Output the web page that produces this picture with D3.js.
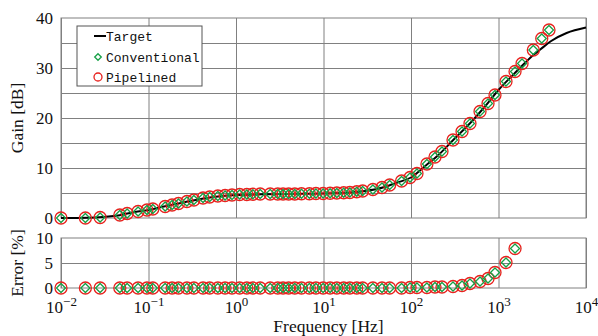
<!DOCTYPE html>
<html>
<head>
<meta charset="utf-8">
<script src="https://cdn.jsdelivr.net/npm/d3@7"></script>
<style>
  body { margin: 0; background: #fff; }
  .tick text { font-family: "Liberation Serif", serif; font-size: 17px; fill: #111; }
  .title { font-family: "Liberation Serif", serif; font-size: 17.5px; fill: #111; }
  .legend text { font-family: "Liberation Mono", monospace; font-size: 13px; fill: #111; }
</style>
</head>
<body>
<div id="chart"></div>
<script>
// frequencies of the measured points [Hz]
const freqs = [0.01, 0.019, 0.028, 0.047, 0.057, 0.076, 0.096, 0.112, 0.155, 0.186,
  0.22, 0.275, 0.33, 0.42, 0.5, 0.62, 0.75, 0.9, 1.1, 1.33,
  1.56, 1.89, 2.46, 3.0, 3.45, 4.0, 4.7, 5.6, 6.9, 8.2,
  9.9, 11.9, 14.2, 17, 20, 24, 28, 36.7, 46.6, 57,
  78, 97.5, 117, 152, 188, 226, 302, 383, 472, 615,
  759, 912, 1218, 1545, 1858, 2500, 3121, 3776];

// gain [dB]
const conventionalGain = [0, 0, 0.1, 0.6, 0.9, 1.3, 1.6, 1.8, 2.3, 2.6,
  2.9, 3.3, 3.6, 4.0, 4.2, 4.4, 4.5, 4.6, 4.7, 4.7,
  4.75, 4.8, 4.8, 4.8, 4.8, 4.8, 4.8, 4.85, 4.85, 4.9,
  4.9, 4.95, 5.0, 5.05, 5.1, 5.25, 5.4, 5.7, 6.1, 6.6,
  7.4, 8.1, 8.9, 10.8, 12.2, 13.3, 15.6, 17.3, 18.9, 21.3,
  22.9, 24.6, 27.3, 29.3, 30.9, 33.6, 35.9, 37.6];
const pipelinedGain = [0, 0, 0.1, 0.6, 0.9, 1.3, 1.6, 1.8, 2.3, 2.6,
  2.9, 3.3, 3.6, 4.0, 4.2, 4.4, 4.5, 4.6, 4.7, 4.7,
  4.75, 4.8, 4.8, 4.8, 4.8, 4.8, 4.8, 4.85, 4.85, 4.9,
  4.9, 4.95, 5.0, 5.05, 5.1, 5.25, 5.4, 5.7, 6.1, 6.6,
  7.4, 8.1, 8.9, 10.8, 12.2, 13.3, 15.6, 17.3, 18.9, 21.3,
  22.9, 24.6, 27.3, 29.3, 30.9, 33.6, 35.9, 37.6];

// error [%] (null = off the chart)
const conventionalError = [0, 0, 0, 0, 0, 0, 0, 0, 0, 0,
  0, 0, 0, 0, 0, 0, 0, 0, 0, 0,
  0, 0, 0, 0, 0, 0, 0, 0, 0, 0,
  0, 0, 0, 0, 0, 0, 0, 0, 0, 0,
  0, 0.1, 0.1, 0.1, 0.2, 0.2, 0.3, 0.5, 0.9, 1.3,
  1.9, 3.1, 5.1, 7.9, null, null, null, null];
const pipelinedError = [0, 0, 0, 0, 0, 0, 0, 0, 0, 0,
  0, 0, 0, 0, 0, 0, 0, 0, 0, 0,
  0, 0, 0, 0, 0, 0, 0, 0, 0, 0,
  0, 0, 0, 0, 0, 0, 0, 0, 0, 0,
  0, 0.1, 0.1, 0.1, 0.2, 0.2, 0.3, 0.5, 0.9, 1.3,
  1.9, 3.1, 5.1, 7.9, null, null, null, null];

// target response
const targetFreq = [0.01, 0.02, 0.03, 0.05, 0.07, 0.1, 0.15, 0.2, 0.3, 0.5,
  0.7, 1, 2, 5, 10, 20, 30, 50, 70, 100,
  150, 200, 300, 500, 700, 1000, 1500, 2000, 2500, 3000,
  4000, 6000, 10000];
const targetGain = [0, 0.05, 0.2, 0.65, 1.2, 1.6, 2.3, 2.75, 3.4, 4.1,
  4.4, 4.6, 4.75, 4.85, 4.9, 5.1, 5.4, 6.2, 7.1, 8.1,
  10.6, 12.4, 15.5, 19.4, 22.3, 25.6, 28.8, 31.0, 32.6, 33.7,
  35.4, 37.0, 38.1];

const xTicks = [1e-2, 1e-1, 1e0, 1e1, 1e2, 1e3, 1e4];
const xTickExp = ["\u22122", "\u22121", "0", "1", "2", "3", "4"];
const gainTicks = [0, 10, 20, 30, 40];
const gainGrid = [5, 10, 15, 20, 25, 30, 35];
const errorTicks = [0, 5, 10];
const errorGrid = [5];

const width = 598, height = 336;
const left = 61, right = 586;
const gridColor = "#808080";
const red = "#e8211d", green = "#16a046";

const svg = d3.select("#chart").append("svg")
  .attr("width", width)
  .attr("height", height);

const x = d3.scaleLog().domain([1e-2, 1e4]).range([left, right]);
const yGain = d3.scaleLinear().domain([0, 40]).range([218, 18]);
const yErr = d3.scaleLinear().domain([0, 10]).range([288, 238]);

function drawPanel(y, grid, ticks) {
  const [y0, y1] = y.range();
  // horizontal grid
  svg.append("g")
    .attr("transform", "translate(" + left + ",0)")
    .call(d3.axisLeft(y).tickValues(grid).tickSize(-(right - left)).tickFormat(""))
    .call(g => g.select(".domain").remove())
    .call(g => g.selectAll("line").attr("stroke", gridColor));
  // vertical grid
  svg.append("g")
    .attr("transform", "translate(0," + y0 + ")")
    .call(d3.axisBottom(x).tickValues(xTicks).tickSize(-(y0 - y1)).tickFormat(""))
    .call(g => g.select(".domain").remove())
    .call(g => g.selectAll("line").attr("stroke", gridColor));
  // frame
  svg.append("rect")
    .attr("x", left).attr("y", y1)
    .attr("width", right - left).attr("height", y0 - y1)
    .attr("fill", "none").attr("stroke", gridColor);
  // labels
  svg.append("g")
    .attr("transform", "translate(" + (left - 8) + ",0)")
    .call(d3.axisLeft(y).tickValues(ticks).tickSize(0).tickPadding(0))
    .call(g => g.select(".domain").remove());
}

drawPanel(yGain, gainGrid, gainTicks);
drawPanel(yErr, errorGrid, errorTicks);

// x tick labels with superscripts
svg.append("g")
  .attr("transform", "translate(0,297)")
  .call(d3.axisBottom(x).tickValues(xTicks).tickSize(0).tickPadding(0).tickFormat(""))
  .call(g => g.select(".domain").remove())
  .call(g => g.selectAll(".tick text").each(function(d, i) {
    const t = d3.select(this).attr("dy", "0.95em");
    t.append("tspan").text("10");
    t.append("tspan").attr("dy", -7).attr("font-size", 13).text(xTickExp[i]);
  }));

// titles
svg.append("text").attr("class", "title")
  .attr("x", (left + right) / 2 + 5).attr("y", 332)
  .attr("text-anchor", "middle").text("Frequency [Hz]");
svg.append("text").attr("class", "title")
  .attr("transform", "translate(23," + yGain(20) + ") rotate(-90)")
  .attr("text-anchor", "middle").text("Gain [dB]");
svg.append("text").attr("class", "title")
  .attr("transform", "translate(23," + yErr(5) + ") rotate(-90)")
  .attr("text-anchor", "middle").text("Error [%]");

// target curve
const target = targetFreq.map((f, i) => ({ f: f, v: targetGain[i] }));
svg.append("path")
  .datum(target)
  .attr("fill", "none")
  .attr("stroke", "#000")
  .attr("stroke-width", 2)
  .attr("d", d3.line().x(d => x(d.f)).y(d => yGain(d.v)).curve(d3.curveMonotoneX));

const diamond = d3.symbol().type(d3.symbolDiamond2).size(52);

function circles(values, y) {
  const pts = freqs.map((f, i) => ({ f: f, v: values[i] })).filter(d => d.v !== null);
  svg.append("g").selectAll("circle")
    .data(pts)
    .enter()
    .append("circle")
    .attr("cx", d => x(d.f))
    .attr("cy", d => y(d.v))
    .attr("r", 6)
    .attr("fill", "none")
    .attr("stroke", red)
    .attr("stroke-width", 1.3);
}

function diamonds(values, y) {
  const pts = freqs.map((f, i) => ({ f: f, v: values[i] })).filter(d => d.v !== null);
  svg.append("g").selectAll("path")
    .data(pts)
    .enter()
    .append("path")
    .attr("transform", d => "translate(" + x(d.f) + "," + y(d.v) + ")")
    .attr("d", diamond)
    .attr("fill", "none")
    .attr("stroke", green)
    .attr("stroke-width", 1.3);
}

circles(pipelinedGain, yGain);
diamonds(conventionalGain, yGain);
circles(pipelinedError, yErr);
diamonds(conventionalError, yErr);

// legend
const legend = svg.append("g").attr("class", "legend");
legend.append("rect")
  .attr("x", 77).attr("y", 26).attr("width", 125).attr("height", 60)
  .attr("fill", "#fff").attr("stroke", "#555");
legend.append("line")
  .attr("x1", 94).attr("x2", 106).attr("y1", 36).attr("y2", 36)
  .attr("stroke", "#000").attr("stroke-width", 2);
legend.append("text").attr("x", 106).attr("y", 41).text("Target");
legend.append("path")
  .attr("transform", "translate(98,57)")
  .attr("d", d3.symbol().type(d3.symbolDiamond2).size(28))
  .attr("fill", "none").attr("stroke", green).attr("stroke-width", 1.3);
legend.append("text").attr("x", 106).attr("y", 62).text("Conventional");
legend.append("circle")
  .attr("cx", 98).attr("cy", 77).attr("r", 4)
  .attr("fill", "none").attr("stroke", red).attr("stroke-width", 1.3);
legend.append("text").attr("x", 106).attr("y", 82).text("Pipelined");
</script>
</body>
</html>
